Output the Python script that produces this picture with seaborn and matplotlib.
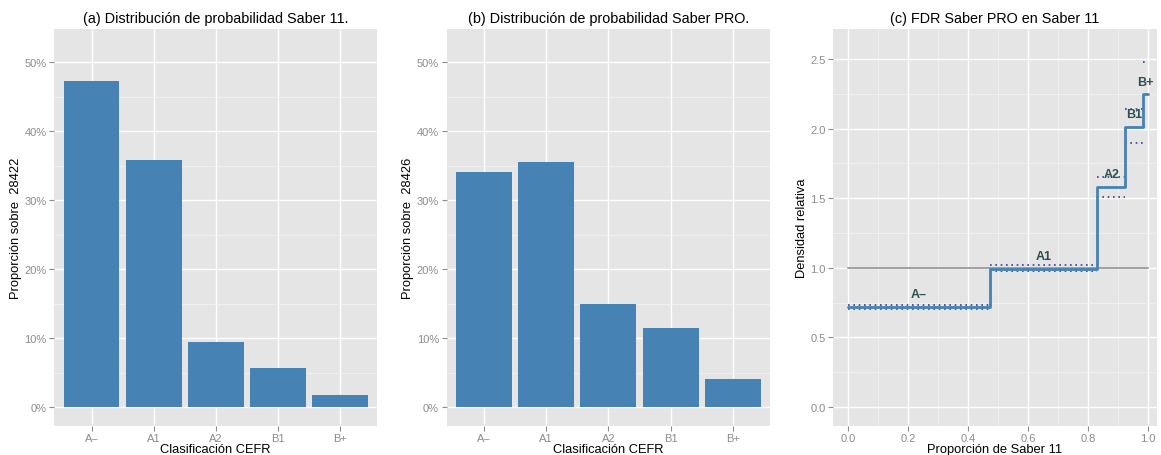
import numpy as np
import pandas as pd
import matplotlib
matplotlib.use("Agg")
import matplotlib.pyplot as plt
import seaborn as sns
from matplotlib.ticker import FuncFormatter, FixedLocator

# ---------------- data ----------------
categorias = ["A–", "A1", "A2", "B1", "B+"]
saber11_pct = [47.3, 35.8, 9.45, 5.7, 1.82]
saberpro_pct = [34.1, 35.6, 15.0, 11.5, 4.1]
n_saber11 = 28422
n_saberpro = 28426
ic_inferior = [0.706, 0.975, 1.508, 1.90, 2.012]
ic_superior = [0.735, 1.018, 1.655, 2.14, 2.478]

# ---------------- style ----------------
sns.set_theme(style="darkgrid", rc={
    "axes.facecolor": "#E5E5E5",
    "grid.color": "white",
    "grid.linewidth": 1.0,
    "axes.edgecolor": "#E5E5E5",
    "xtick.color": "#7F7F7F",
    "ytick.color": "#7F7F7F",
    "xtick.major.size": 3.5,
    "ytick.major.size": 3.5,
    "xtick.major.width": 0.8,
    "ytick.major.width": 0.8,
    "xtick.bottom": True,
    "ytick.left": True,
})
plt.rcParams["font.family"] = ["Liberation Sans", "DejaVu Sans"]

W, H = 1161, 456
fig = plt.figure(figsize=(W / 100, H / 100), dpi=100)

def rect(l, r, t, b):
    return [l / W, (H - b) / H, (r - l) / W, (b - t) / H]

ax_a = fig.add_axes(rect(54.3, 377, 29.5, 426.7))
ax_b = fig.add_axes(rect(446.7, 770, 29.5, 426.7))
ax_c = fig.add_axes(rect(833.3, 1156.7, 29.5, 426.7))

bar_color = "#4682B4"
TITLE = 10.4
LAB = 9.3
TICK = 8
TICKCOL = "#8C8C8C"

def bar_panel(ax, vals, n, title):
    df = pd.DataFrame({"cat": categorias, "pct": vals})
    sns.barplot(data=df, x="cat", y="pct", color=bar_color, width=0.9,
                saturation=1, ax=ax, errorbar=None, edgecolor="none",
                linewidth=0)
    ax.set_xlim(-0.6, 4.6)
    ax.set_ylim(-2.7, 54.9)
    ax.yaxis.set_major_locator(FixedLocator([0, 10, 20, 30, 40, 50]))
    ax.yaxis.set_minor_locator(FixedLocator([5, 15, 25, 35, 45]))
    ax.yaxis.set_major_formatter(FuncFormatter(lambda v, p: f"{v:.0f}%"))
    ax.grid(which="minor", axis="y", color="#F2F2F2", linewidth=0.6)
    ax.grid(which="major", color="white", linewidth=1.0)
    ax.set_axisbelow(True)
    ax.tick_params(axis="both", labelsize=TICK, colors=TICKCOL, pad=2)
    ax.tick_params(which="minor", length=0)
    ax.set_xlabel("Clasificación CEFR", fontsize=LAB, color="black", labelpad=0)
    ax.set_ylabel(f"Proporción sobre  {n}", fontsize=LAB, color="black", labelpad=2)
    ax.set_title(title, fontsize=TITLE, color="black", pad=5)
    for s in ax.spines.values():
        s.set_visible(False)

bar_panel(ax_a, saber11_pct, n_saber11, "(a) Distribución de probabilidad Saber 11.")
bar_panel(ax_b, saberpro_pct, n_saberpro, "(b) Distribución de probabilidad Saber PRO.")

# ---------------- panel c ----------------
p11 = np.array(saber11_pct) / np.sum(saber11_pct)
ppro = np.array(saberpro_pct) / np.sum(saberpro_pct)
dens = ppro / p11
bordes = np.concatenate([[0.0], np.cumsum(p11)])
bordes[-1] = 1.0

ref = pd.DataFrame({"x": [0.0, 1.0], "y": [1.0, 1.0]})
sns.lineplot(data=ref, x="x", y="y", color="#A0A0A0", linewidth=1.4, ax=ax_c)

for i in range(len(categorias)):
    for lev in (ic_inferior[i], ic_superior[i]):
        seg = pd.DataFrame({"x": [bordes[i], bordes[i + 1]], "y": [lev, lev]})
        sns.lineplot(data=seg, x="x", y="y", color="#3A3AA8", linewidth=1.2,
                     linestyle=(0, (1, 2.2)), ax=ax_c)

step = pd.DataFrame({"x": bordes, "y": np.append(dens, dens[-1])})
sns.lineplot(data=step, x="x", y="y", color=bar_color, linewidth=2.0,
             drawstyle="steps-post", ax=ax_c)

for i, c in enumerate(categorias):
    ax_c.text((bordes[i] + bordes[i + 1]) / 2, dens[i] + 0.09, c,
              ha="center", va="center", fontsize=9, fontweight="bold",
              color="#2F4F4F")

ax_c.set_xlim(-0.05, 1.029)
ax_c.set_ylim(-0.135, 2.72)
ax_c.xaxis.set_major_locator(FixedLocator([0, 0.2, 0.4, 0.6, 0.8, 1.0]))
ax_c.xaxis.set_minor_locator(FixedLocator([0.1, 0.3, 0.5, 0.7, 0.9]))
ax_c.yaxis.set_major_locator(FixedLocator([0, 0.5, 1.0, 1.5, 2.0, 2.5]))
ax_c.yaxis.set_minor_locator(FixedLocator([0.25, 0.75, 1.25, 1.75, 2.25]))
ax_c.xaxis.set_major_formatter(FuncFormatter(lambda v, p: f"{v:.1f}"))
ax_c.yaxis.set_major_formatter(FuncFormatter(lambda v, p: f"{v:.1f}"))
ax_c.grid(which="minor", color="#F2F2F2", linewidth=0.6)
ax_c.grid(which="major", color="white", linewidth=1.0)
ax_c.set_axisbelow(True)
ax_c.tick_params(axis="both", labelsize=TICK, colors=TICKCOL, pad=2)
ax_c.tick_params(which="minor", length=0)
ax_c.set_xlabel("Proporción de Saber 11", fontsize=LAB, color="black", labelpad=0)
ax_c.set_ylabel("Densidad relativa", fontsize=LAB, color="black", labelpad=2)
ax_c.set_title("(c) FDR Saber PRO en Saber 11", fontsize=TITLE, color="black", pad=5)
for s in ax_c.spines.values():
    s.set_visible(False)

fig.savefig("out.png", dpi=100)
